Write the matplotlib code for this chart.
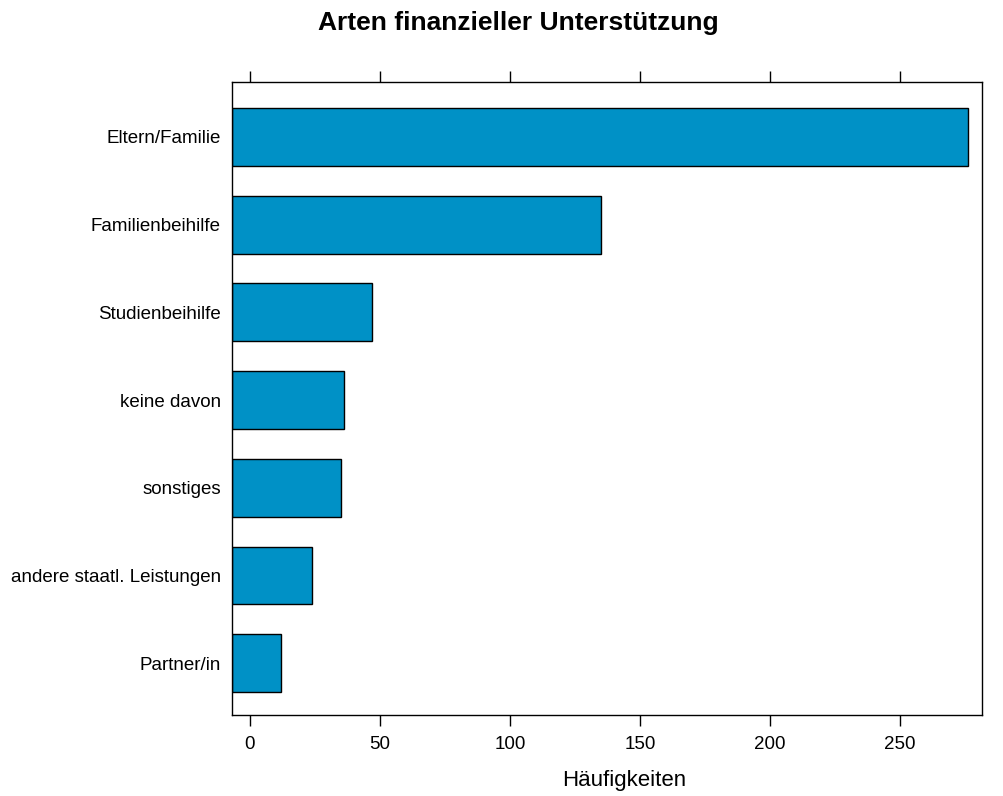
import matplotlib
matplotlib.use("Agg")
import matplotlib.pyplot as plt

plt.rcParams['font.family'] = ['Liberation Sans', 'DejaVu Sans']

categories = ["Partner/in", "andere staatl. Leistungen", "sonstiges",
              "keine davon", "Studienbeihilfe", "Familienbeihilfe",
              "Eltern/Familie"]
counts = [12, 24, 35, 36, 47, 135, 276]
xticks = [0, 50, 100, 150, 200, 250]

xmin, xmax = -6.9, 281.5

fig = plt.figure(figsize=(10.04, 7.96), dpi=100)
ax = fig.add_axes([0.2311, 0.1018, 0.7470, 0.7952])

pos = list(range(1, len(categories) + 1))
ax.barh(pos, [c - xmin for c in counts], left=xmin, height=0.66,
        color="#0091c6", edgecolor="black", linewidth=1)

ax.set_xlim(xmin, xmax)
ax.set_ylim(0.41, 7.625)
ax.set_yticks(pos)
ax.set_yticklabels(categories, fontsize=13.5)
ax.tick_params(axis='y', length=0, pad=8)
ax.set_xticks(xticks)
ax.set_xticklabels([str(t) for t in xticks], fontsize=13.5)
ax.tick_params(axis='x', top=True, direction='out', length=8, width=1,
               pad=7)

for s in ax.spines.values():
    s.set_linewidth(1)

ax.set_xlabel("Häufigkeiten", fontsize=16)
ax.xaxis.set_label_coords(0.523, -0.087)
fig.text(0.516, 0.971, "Arten finanzieller Unterstützung", fontsize=19,
         fontweight='bold', ha='center', va='center')

fig.savefig("out.png", dpi=100)
